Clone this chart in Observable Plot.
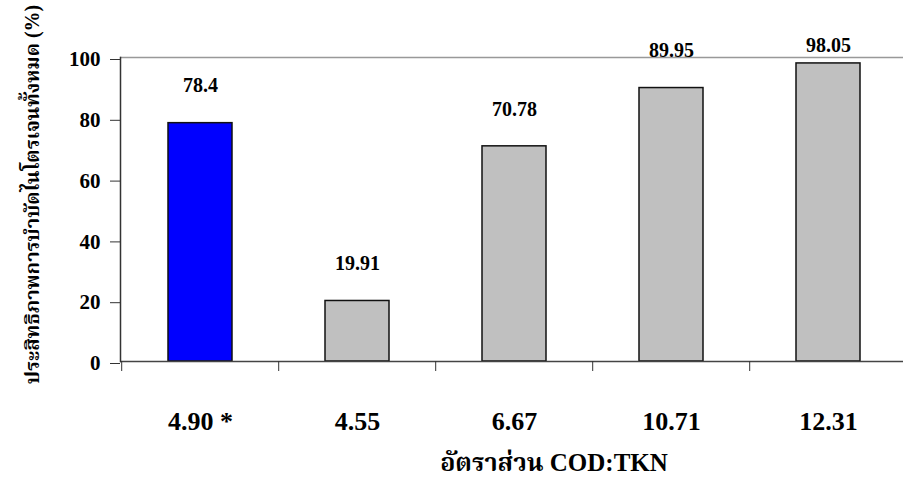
<!DOCTYPE html>
<html>
<head>
<meta charset="utf-8">
<script src="https://cdn.jsdelivr.net/npm/d3@7"></script>
<script src="https://cdn.jsdelivr.net/npm/@observablehq/plot@0.6"></script>
<style>
  html, body { margin: 0; padding: 0; background: #fff; }
  #chart svg { display: block; }
  #chart svg, #chart svg text {
    font-family: "Liberation Serif", "Times New Roman", "Norasi", "Tlwg Typo", "Noto Serif Thai", serif !important;
  }
</style>
</head>
<body>
<div id="chart"></div>
<script>
// COD:TKN ratios (the starred one is the selected operating condition)
const ratios = ["4.90 *", "4.55", "6.67", "10.71", "12.31"];
// Total nitrogen removal efficiency, %
const efficiency = [78.4, 19.91, 70.78, 89.95, 98.05];
const highlighted = [true, false, false, false, false];
const yTicks = [0, 20, 40, 60, 80, 100];

const yTitle = "ประสิทธิภาพการบำบัดไนโตรเจนทั้งหมด (%)";
const xTitle = "อัตราส่วน COD:TKN";

const data = ratios.map((r, i) => ({ratio: r, value: efficiency[i], hi: highlighted[i]}));

const xRange = [120, 908];
const step = (xRange[1] - xRange[0]) / ratios.length;

const chart = Plot.plot({
  width: 903,
  height: 493,
  marginTop: 57,
  marginBottom: 132,
  marginLeft: 120,
  marginRight: 0,
  style: {background: "#fff", color: "#000"},
  x: {domain: ratios, range: xRange, paddingInner: 0.59, paddingOuter: 0.295},
  y: {domain: [0, 100]},
  marks: [
    // top reference line at 100 %
    Plot.ruleY([100], {stroke: "#999", strokeWidth: 1.5}),
    Plot.barY(data, {
      x: "ratio",
      y: "value",
      fill: d => d.hi ? "#0000ff" : "#c0c0c0",
      stroke: "#111",
      strokeWidth: 1.5
    }),
    Plot.ruleY([0], {stroke: "#444", strokeWidth: 1.5}),
    Plot.frame({anchor: "left", stroke: "#333", strokeWidth: 1.5}),
    Plot.axisY({
      ticks: yTicks,
      tickSize: 10,
      tickPadding: 10,
      fontSize: 21,
      fontWeight: "bold",
      stroke: "#333",
      dy: 2,
      label: null
    }),
    // category separators below the baseline
    Plot.axisX({
      tickSize: 10,
      text: null,
      dx: -step / 2,
      stroke: "#333",
      label: null
    }),
    Plot.axisX({
      tickSize: 0,
      tickPadding: 50,
      fontSize: 26,
      fontWeight: "bold",
      label: null
    }),
    // value labels above the bars, kept inside the top of the chart
    Plot.text(data, {
      x: "ratio",
      y: d => Math.min(d.value + 12.2, 104),
      text: d => String(d.value),
      fontSize: 20,
      fontWeight: "bold",
      lineAnchor: "middle"
    }),
    Plot.text([xTitle], {
      frameAnchor: "bottom",
      textAnchor: "middle",
      dx: 42,
      dy: 109,
      lineAnchor: "bottom",
      fontSize: 25,
      fontWeight: "bold"
    }),
    Plot.text([yTitle], {
      frameAnchor: "left",
      textAnchor: "middle",
      dx: -88,
      dy: -15,
      rotate: -90,
      lineAnchor: "middle",
      fontSize: 20,
      fontWeight: "bold"
    })
  ]
});

document.getElementById("chart").appendChild(chart);
</script>
</body>
</html>
